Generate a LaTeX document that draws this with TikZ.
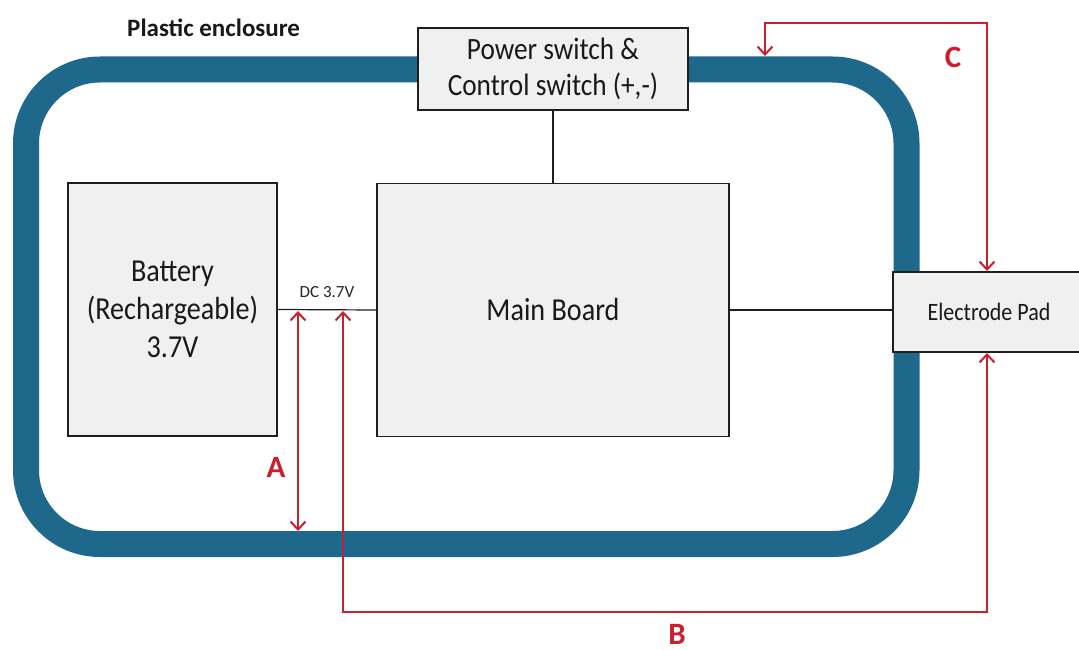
\documentclass[tikz,border=0pt]{standalone}
\usepackage{fontspec}
\setmainfont{Carlito}
\newfontfamily\cond[FakeStretch=0.88]{Carlito}
\usetikzlibrary{arrows.meta}
\definecolor{encblue}{RGB}{30,104,140}
\definecolor{arrred}{RGB}{200,32,45}
\definecolor{boxfill}{RGB}{240,240,240}
\definecolor{boxline}{RGB}{30,30,30}
\tikzset{
  blockbox/.style={draw=boxline, line width=1.6pt, fill=boxfill, inner sep=0pt, align=center, text=black!90},
  wire/.style={draw=boxline, line width=1.2pt},
  redarrow/.style={draw=arrred, line width=1.8pt, arrows={Straight Barb[length=8pt,width=15pt,line width=2pt]-Straight Barb[length=8pt,width=15pt,line width=2pt]}},
  redlabel/.style={text=arrred, font=\fontsize{31}{31}\selectfont\bfseries, inner sep=0pt},
}
\begin{document}
\begin{tikzpicture}[x=1pt,y=-1pt]
\useasboundingbox (0,0) rectangle (1079,650);
\fill[white] (0,0) rectangle (1079,650);
\begin{scope}
\clip (0,0) rectangle (1079,650);
% enclosure
\draw[encblue, line width=26pt, rounded corners=74pt] (26,69.5) rectangle (906.5,544);
\node[anchor=base west, font=\fontsize{25}{25}\selectfont\bfseries, text=black!90, inner sep=0pt] (enc) at (127,37) {Plastic enclosure};
% boxes
\node[blockbox, minimum width=270pt, minimum height=82pt, font=\cond\fontsize{31}{36}\selectfont] (sw) at (553,69) {Power switch \&\\Control switch (+,-)};
\node[blockbox, minimum width=209pt, minimum height=253pt, font=\cond\fontsize{32}{38}\selectfont] (bat) at (172.5,309.5) {Battery\\(Rechargeable)\\3.7V};
\node[blockbox, minimum width=352pt, minimum height=253pt, font=\cond\fontsize{32}{38}\selectfont] (main) at (553,310) {Main Board};
\node[blockbox, minimum width=192pt, minimum height=80pt, font=\cond\fontsize{25}{28}\selectfont] (pad) at (989,312) {Electrode Pad};
% wires
\draw[wire] (bat.east) -- (main.west);
\draw[wire] (sw.south) -- (sw.south |- main.north);
\draw[wire] (main.east) -- (main.east -| pad.west);
\node[font=\fontsize{17}{17}\selectfont, text=black!85, anchor=base, inner sep=0pt] (dc) at (327,297) {DC 3.7V};
% red arrows
\coordinate (a1) at (298,311);
\coordinate (a2) at (298,531);
\draw[redarrow] (a1) -- (a2);
\coordinate (b1) at (343,311);
\coordinate (b2) at (343,612);
\coordinate (b3) at (987,612);
\coordinate (b4) at (987,353);
\draw[redarrow, line join=miter] (b1) -- (b2) -- (b3) -- (b4);
\coordinate (c1) at (765,56);
\coordinate (c2) at (765,23);
\coordinate (c3) at (987,23);
\coordinate (c4) at (987,271);
\draw[redarrow, line join=miter] (c1) -- (c2) -- (c3) -- (c4);
\node[redlabel] (la) at (276,467) {A};
\node[redlabel] (lb) at (677,634) {B};
\node[redlabel] (lc) at (953,57) {C};
\end{scope}
\end{tikzpicture}
\end{document}
